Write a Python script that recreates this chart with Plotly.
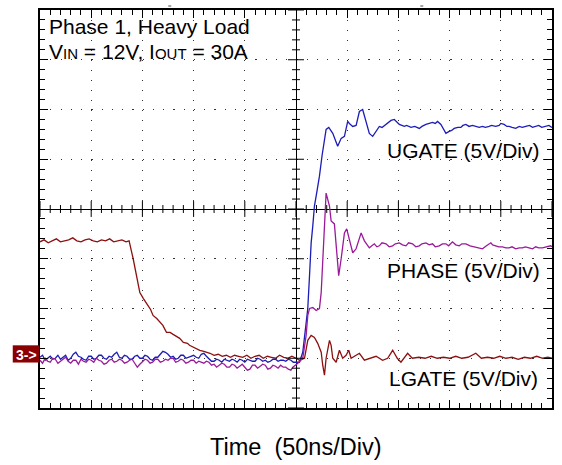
import plotly.graph_objects as go

# ---------------- data (time in ns, voltage in V, 5 V/div, 50 ns/div) ----------------
# LGATE
lgate_t = [-250, -246, -242, -238, -234, -230, -226, -222, -218, -214,
           -210, -206, -202, -198, -194, -190, -186, -182, -178, -174,
           -170, -166, -163,
           -159, -156, -152.5, -149, -146, -144.5, -142, -139.6, -136, -133,
           -130, -126.5, -123, -120, -116, -113.6, -110, -106, -104, -100,
           -97, -94, -90, -86, -84,
           -80, -76, -72, -68, -64, -60, -56, -52, -48, -44,
           -40, -36, -32, -28, -24, -20, -16, -12, -8, -4, 0,
           3.4, 8.3, 11.5, 14.8, 18.0, 21.2, 24.6, 26.1, 27.8, 29.4,
           32.7, 34.3, 35.9, 39.2, 42.4, 45.6, 48.9, 51.5, 53.8, 58.7,
           61.9, 66.8, 71.7, 78.2, 84.6, 89.5, 94.4, 98.9, 102.5, 109.0, 113.6,
           120, 126, 132, 138, 144, 150, 156, 162, 168, 175.6,
           181, 187, 193, 199, 205, 211, 217, 223, 229, 235,
           241, 246, 250]
lgate_v = [11.7, 11.9, 11.6, 11.8, 12.0, 11.7, 11.8, 11.9, 12.1, 11.8,
           11.7, 11.9, 12.0, 11.8, 11.7, 11.9, 11.8, 12.0, 11.7, 11.8,
           11.9, 11.7, 11.8,
           10.0, 8.3, 6.6, 6.0, 5.6, 5.3, 4.9, 4.3, 4.0, 3.6,
           3.3, 2.6, 2.6, 2.4, 2.2, 2.0, 1.6, 1.5, 1.3, 1.1,
           1.0, 0.8, 0.7, 0.6, 0.5,
           0.3, 0.4, 0.2, 0.3, 0.1, 0.3, 0.2, 0.1, 0.3, 0.0,
           0.2, 0.3, 0.0, 0.2, 0.1, 0.0, 0.3, 0.1, 0.0, 0.2, 0.0,
           -0.2, 0.0, 1.8, 2.3, 2.1, 1.5, 0.6, -0.7, -1.7, 0.0,
           1.8, 1.3, 0.0, -0.4, 0.8, 0.0, 0.3, 0.8, 0.0, 0.3,
           0.5, -0.2, 0.0, 0.2, -0.2, 0.0, 0.8, 0.0, -0.4, 0.5, 0.0,
           0.1, 0.0, 0.2, 0.0, 0.1, 0.0, 0.2, 0.0, 0.1, 0.5,
           0.0, 0.1, 0.0, 0.2, 0.0, 0.1, -0.1, 0.1, 0.0, 0.2,
           0.0, 0.1, 0.0]

# UGATE
ugate_t = [-250, -247.5, -245, -242.5, -240, -237.5, -235, -232.5, -230, -227.5,
           -225, -222.5, -220, -217.5, -215, -212.5, -210, -207.5, -205, -202.5,
           -200, -197.5, -195, -192.5, -190, -187.5, -185, -182.5, -180, -177.5,
           -175, -172.5, -170, -167.5, -165, -162.5, -160, -157.5, -155, -152.5,
           -150, -147.5, -145, -142.5, -140, -137.5, -135, -132.5, -130, -127.5,
           -125, -122.5, -120, -117.5, -115, -112.5, -110, -107.5, -105, -102.5,
           -100, -97.5, -95, -92.5, -90, -87.5, -85, -82.5, -80, -77.5,
           -75, -72.5, -70, -67.5, -65, -62.5, -60, -57.5, -55, -52.5,
           -50, -47.5, -45, -42.5, -40, -37.5, -35, -32.5, -30, -27.5,
           -25, -22.5, -20, -17.5, -15, -12.5, -10, -7.5, -5, -2.5, 0,
           3.4, 6.6, 9.9, 11.5, 13.2, 14.8, 16.4, 18.0, 20.5, 22.9,
           25.5, 27.8, 29.4, 32.0, 35.9, 40.7, 44.1, 47.3, 50.5, 52.1,
           55.4, 58.7, 61.9, 65.1, 68.4, 71.6, 74.9, 78.2,
           81.4, 84, 87.9, 90, 92.8, 96.0, 98, 100.9, 105.8, 108,
           112.3, 116, 120.4, 123, 126.9, 130.1, 133.3, 136, 138.2, 141.5,
           144, 146.4, 149.6, 152, 154.5, 158, 161.0, 163, 165.9, 169,
           172.3, 175, 178.9, 182, 185, 188.6, 191, 195, 198.4, 200,
           203.2, 206, 208.1, 211, 214.6, 218, 221, 224.4, 228, 231,
           234.1, 237, 240, 243.9, 247, 250]
ugate_v = [0.1, 0.3, -0.2, 0.0, 0.2, -0.1, 0.0, 0.3, -0.1, 0.1,
           0.3, -0.2, 0.0, 0.4, 0.6, 0.2, 0.1, -0.1, -0.2, 0.2,
           0.2, -0.1, 0.0, 0.3, 0.3, 0.0, -0.1, 0.2, 0.1, 0.4,
           0.6, 0.1, 0.0, 0.3, 0.2, -0.1, -0.1, 0.2, 0.3, 0.0,
           0.0, 0.3, 0.2, -0.1, -0.2, 0.1, 0.1, 0.4, 0.7, 0.6,
           0.4, 0.1, 0.2, -0.1, 0.0, 0.3, 0.3, 0.0, 0.1, 0.2,
           0.3, 0.1, 0.0, 0.4, 0.5, 0.2, -0.1, -0.3, -0.3, -0.1,
           -0.2, -0.4, -0.1, -0.2, -0.3, -0.1, -0.2, -0.4, -0.1, -0.2,
           -0.4, -0.1, -0.2, -0.3, -0.3, 0.0, -0.1, -0.3, -0.2, -0.4,
           -0.3, -0.1, -0.1, -0.3, -0.2, -0.2, -0.3, -0.1, -0.2, -0.4, -0.4,
           -0.4, 0.6, 3.3, 5.0, 8.3, 11.6, 13.3, 15.3, 16.8, 18.3,
           20.4, 22.0, 23.0, 23.2, 22.6, 21.3, 22.1, 22.3, 23.8, 23.6,
           23.3, 23.4, 24.8, 25.0, 23.8, 22.6, 22.3, 22.8,
           23.3, 23.2, 23.5, 23.7, 23.9, 24.0, 23.8, 23.5, 23.3, 23.4,
           23.2, 23.3, 23.1, 23.3, 23.5, 23.6, 23.7, 23.6, 23.8, 23.5,
           23.0, 22.6, 22.8, 22.9, 23.1, 23.2, 23.2, 23.4, 23.5, 23.3,
           23.4, 23.3, 23.2, 23.3, 23.2, 23.3, 23.4, 23.3, 23.4, 23.6,
           23.5, 23.3, 23.3, 23.2, 23.1, 23.3, 23.2, 23.3, 23.4, 23.2,
           23.3, 23.4, 23.2, 23.3, 23.4, 23.2]

# PHASE
phase_t = [-250, -247.5, -245, -242.5, -240, -237.5, -235, -232.5, -230, -227.5,
           -225, -222.5, -220, -217.5, -215, -212.5, -210, -207.5, -205, -202.5,
           -200, -197.5, -195, -192.5, -190, -187.5, -185, -182.5, -180, -177.5,
           -175, -172.5, -170, -167.5, -165, -162.5, -160, -157.5, -155, -152.5,
           -150, -147.5, -145, -142.5, -140, -137.5, -135, -132.5, -130, -127.5,
           -125, -122.5, -120, -117.5, -115, -112.5, -110, -107.5, -105, -102.5,
           -100, -97.5, -95, -92.5, -90, -87.5, -85, -82.5, -80, -77.5,
           -75, -72.5, -70, -67.5, -65, -62.5, -60, -57.5, -55, -52.5,
           -50, -47.5, -45, -42.5, -40, -37.5, -35, -32.5, -30, -27.5,
           -25, -22.5, -20, -17.5, -15, -12.5, -10, -7.5, -5,
           -3.1, 1.8, 6.6, 9.9, 11.5, 13.2, 16.4, 19.7, 22.9, 24.6,
           26.1, 27.8, 29.4, 32.7, 34.3, 37.5, 39.2, 41.7, 44.1, 47.3,
           49.5, 52.1, 55.4, 58.7, 63.6, 66.8, 71.6,
           76.5, 79, 81.4, 84, 87.9, 91, 94.4, 97, 100.9, 104,
           107.4, 110, 113.8, 117, 120.4, 123, 126.9, 130, 133.3, 136,
           139.9, 143, 146.4, 149, 152.8, 156, 159.4, 162, 165.9, 170,
           174.0, 178, 182.1, 186, 190.3, 192, 195.2, 198, 201.6, 205,
           208.1, 211, 214.6, 218, 221.1, 224, 227.6, 231, 234.1, 237,
           240.6, 244, 248.7, 250]
phase_v = [-0.2, -0.5, 0.0, -0.3, -0.4, 0.0, -0.1, -0.5, -0.3, -0.1,
           0.1, -0.3, -0.5, -0.2, -0.2, -0.6, -0.1, -0.3, -0.4, -0.1,
           -0.2, -0.4, 0.0, -0.2, -0.3, -0.6, -0.5, -0.2, -0.1, -0.4,
           -0.3, -0.1, -0.2, -0.5, -0.4, -0.2, -0.1, -0.5, -0.9, -0.6,
           -0.3, -0.1, -0.2, -0.5, -0.4, -0.1, -0.1, -0.4, -0.3, -0.1,
           -0.2, 0.0, 0.0, -0.4, -0.3, -0.1, -0.2, -0.5, -0.4, -0.2,
           -0.2, -0.5, -0.3, -0.4, -0.5, -0.3, -0.4, -0.7, -0.6, -0.9,
           -0.7, -0.5, -0.6, -0.9, -0.9, -0.6, -0.7, -1.0, -0.8, -0.6,
           -0.9, -1.2, -1.1, -0.7, -0.7, -1.0, -0.8, -0.6, -0.7, -1.1,
           -1.0, -0.7, -0.8, -1.0, -0.7, -0.9, -0.9, -1.1, -1.2,
           -0.9, -0.5, 0.0, 2.3, 4.3, 5.0, 5.1, 4.8, 5.0, 6.6,
           10.0, 13.3, 16.6, 15.3, 13.8, 13.5, 11.0, 8.3, 10.0, 12.6,
           13.0, 12.0, 10.6, 11.0, 12.6, 11.8, 11.1,
           11.5, 11.2, 11.3, 11.6, 11.5, 11.2, 11.3, 11.5, 11.6, 11.4,
           11.3, 11.6, 11.5, 11.2, 11.3, 11.5, 11.6, 11.4, 11.5, 11.2,
           11.3, 11.5, 11.5, 11.3, 11.7, 11.4, 11.3, 11.5, 11.5, 11.3,
           11.2, 11.1, 11.0, 11.3, 11.6, 11.4, 11.3, 11.2, 11.2, 11.1,
           11.1, 11.2, 11.0, 11.1, 11.1, 11.2, 11.1, 11.0, 11.2, 11.1,
           11.1, 11.2, 11.3, 11.2]

channel_ground_v = -15  # ground marker "3->" sits 3 div below centre

# ---------------- figure ----------------
W, H = 562, 465
ML, MR, MT, MB = 40, 9, 8, 57
PW, PH = W - ML - MR, H - MT - MB


def pxx(x):
    return (x - ML) / PW


def pxy(y):
    return (H - MB - y) / PH


fig = go.Figure()
traces = [
    (lgate_t, lgate_v, "#8c1010"),
    (ugate_t, ugate_v, "#1c1cb8"),
    (phase_t, phase_v, "#9a1a9a"),
]
for t, v, c in traces:
    fig.add_trace(go.Scatter(
        x=t, y=[vi + channel_ground_v for vi in v], mode="lines",
        line=dict(color=c, width=1.3), hoverinfo="skip", showlegend=False))

shapes = []
# crosshair ticks
for k in range(-25, 26):
    half = 0.8 if k % 5 == 0 else 0.4
    shapes.append(dict(type="line", xref="x", yref="y", x0=k * 10, x1=k * 10,
                       y0=-half, y1=half, line=dict(color="black", width=1), layer="above"))
for k in range(-20, 21):
    half = 7.8 if k % 5 == 0 else 3.9
    shapes.append(dict(type="line", xref="x", yref="y", x0=-half, x1=half,
                       y0=k, y1=k, line=dict(color="black", width=1), layer="above"))
# ground marker box
shapes.append(dict(type="rect", xref="paper", yref="paper",
                   x0=pxx(12.7), x1=pxx(39.3), y0=pxy(362.3), y1=pxy(345),
                   fillcolor="#8b0000", line=dict(width=0), layer="above"))
# trigger marks above the frame
for a, b in [(168.5, 171.5), (421, 424)]:
    shapes.append(dict(type="line", xref="paper", yref="paper",
                       x0=pxx(a), x1=pxx(b), y0=pxy(4), y1=pxy(4),
                       line=dict(color="#888888", width=1.5)))

FONT = "Liberation Sans, Arial, sans-serif"
ann = []


def label(text, x, y, xanchor, size, color="black"):
    ann.append(dict(text=text, x=pxx(x), y=pxy(y), xref="paper", yref="paper",
                    xanchor=xanchor, yanchor="middle", showarrow=False,
                    font=dict(family=FONT, size=size, color=color)))


label("Phase 1, Heavy Load", 47, 24.5, "left", 21)
label("V<span style='font-size:15px'>IN</span> = 12V, I<span style='font-size:15px'>OUT</span> = 30A",
      47, 49.5, "left", 21)
label("UGATE (5V/Div)", 541.5, 149.5, "right", 21)
label("PHASE (5V/Div)", 543, 269.8, "right", 21)
label("LGATE (5V/Div)", 540.5, 378.8, "right", 21)
label("<b>3-></b>", 26, 354.5, "center", 14, "white")
ann.append(dict(text="Time\u00a0\u00a0(50ns/Div)", x=pxx(296.7), y=pxy(447.1),
                xref="paper", yref="paper", xanchor="center", yanchor="middle",
                showarrow=False, font=dict(family=FONT, size=23.5, color="black")))

axis_common = dict(showline=True, linecolor="black", linewidth=1.5, mirror="allticks",
                   ticks="inside", ticklen=8, tickcolor="black", tickwidth=1,
                   showticklabels=False, showgrid=True, gridcolor="#333333", gridwidth=1.2,
                   zeroline=True, zerolinecolor="black", zerolinewidth=1, fixedrange=True)

fig.update_layout(
    width=W, height=H, autosize=False,
    margin=dict(l=ML, r=MR, t=MT, b=MB, pad=0),
    paper_bgcolor="white", plot_bgcolor="white",
    xaxis=dict(range=[-250, 250], tick0=0, dtick=50, griddash="1.2px,8.8px",
               minor=dict(dtick=10, tick0=0, ticks="inside", ticklen=5, tickcolor="black",
                          tickwidth=1, showgrid=False),
               **axis_common),
    yaxis=dict(range=[-20, 20], tick0=0, dtick=5, griddash="1.2px,9.06px",
               minor=dict(dtick=1, tick0=0, ticks="inside", ticklen=5, tickcolor="black",
                          tickwidth=1, showgrid=False),
               **axis_common),
    shapes=shapes, annotations=ann, showlegend=False,
)

fig.write_html("out.html")
